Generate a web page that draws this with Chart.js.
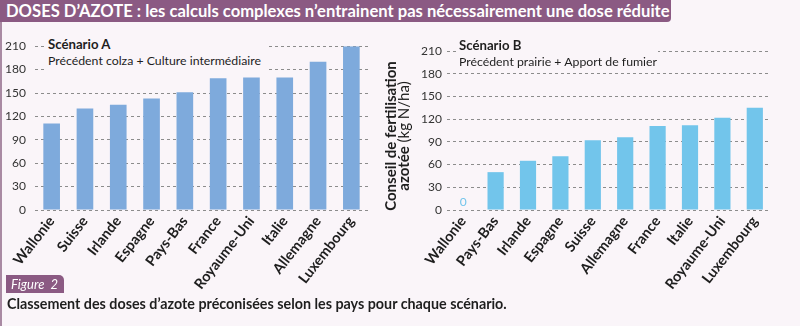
<!DOCTYPE html>
<html>
<head>
<meta charset="utf-8">
<script src="https://cdn.jsdelivr.net/npm/chart.js@4"></script>
<style>
  html, body { margin: 0; padding: 0; }
  body {
    width: 800px; height: 326px; position: relative; overflow: hidden;
    background: #faf5f9; font-family: Lato, "Noto Sans", sans-serif; color: #1e1e1e;
  }
  .bord { position: absolute; left: 0; top: 0; width: 2px; height: 326px; background: #a98aa3; }
  .titre {
    position: absolute; left: 0; top: 0; width: 665px; height: 22px; padding-left: 6px;
    background: #8b5a83; color: #fff; font-weight: 700; font-size: 16.6px; line-height: 22px;
    border-bottom-right-radius: 4px; white-space: nowrap;
  }
  canvas { position: absolute; }
  #graphA { left: 0; top: 30px; }
  #graphB { left: 410px; top: 30px; }
  .scen { position: absolute; background: #faf5f9; font-size: 12.3px; line-height: 16px; padding: 0 3px; white-space: nowrap; }
  .scen b { font-weight: 700; font-size: 13.2px; }
  #scenA { left: 45px; top: 36px; width: 215px; height: 35px; }
  #scenB { left: 456px; top: 37px; width: 196px; height: 28px; }
  .axe {
    position: absolute; left: 397px; top: 136px; width: 170px; transform: translate(-50%, -50%) rotate(-90deg);
    text-align: center; font-size: 15px; line-height: 13px; white-space: nowrap;
  }
  .fig {
    position: absolute; left: 6px; top: 275px; width: 58px; height: 18px; background: #8b5a83;
    color: #fff; font-style: italic; font-size: 13px; line-height: 18px; padding-left: 5px;
    box-sizing: border-box; border-top-right-radius: 5px;
  }
  .legende { position: absolute; left: 7px; top: 295px; font-weight: 700; font-size: 14.3px; white-space: nowrap; }
</style>
</head>
<body>
<div class="bord"></div>
<div class="titre">DOSES D’AZOTE : les calculs complexes n’entrainent pas nécessairement une dose réduite</div>

<canvas id="graphA" width="380" height="265"></canvas>
<canvas id="graphB" width="390" height="265"></canvas>

<div class="scen" id="scenA"><b>Scénario A</b><br>Précédent colza + Culture intermédiaire</div>
<div class="scen" id="scenB"><b>Scénario B</b><br>Précédent prairie + Apport de fumier</div>
<div class="axe"><b>Conseil de fertilisation</b><br><b>azotée</b> (kg N/ha)</div>

<div class="fig">Figure&nbsp; 2</div>
<div class="legende">Classement des doses d’azote préconisées selon les pays pour chaque scénario.</div>

<script>
// données
const paysA = ['Wallonie', 'Suisse', 'Irlande', 'Espagne', 'Pays-Bas', 'France', 'Royaume-Uni', 'Italie', 'Allemagne', 'Luxembourg'];
const dosesA = [111, 130, 135, 143, 151, 169, 170, 170, 190, 210];
const paysB = ['Wallonie', 'Pays-Bas', 'Irlande', 'Espagne', 'Suisse', 'Allemagne', 'France', 'Italie', 'Royaume-Uni', 'Luxembourg'];
const dosesB = [0, 50, 65, 71, 92, 96, 111, 112, 122, 135];
const graduations = [0, 30, 60, 90, 120, 150, 180, 210];

const police = 'Lato, "Noto Sans", sans-serif';

// écrit "0" au-dessus des barres nulles
const etiquetteZero = {
    id: 'etiquetteZero',
    afterDatasetsDraw(chart) {
        const ctx = chart.ctx;
        const meta = chart.getDatasetMeta(0);
        const ds = chart.data.datasets[0];
        ds.data.forEach((v, i) => {
            if (v !== 0) return;
            const el = meta.data[i];
            ctx.save();
            ctx.fillStyle = ds.backgroundColor;
            ctx.font = '12px ' + police;
            ctx.textAlign = 'center';
            ctx.textBaseline = 'bottom';
            ctx.fillText('0', el.x, chart.scales.y.getPixelForValue(0) - 2);
            ctx.restore();
        });
    }
};

function creerGraphique(id, pays, doses, couleur, cadre) {
    return new Chart(document.getElementById(id), {
        type: 'bar',
        data: {
            labels: pays,
            datasets: [{
                data: doses,
                backgroundColor: couleur,
                barPercentage: 1,
                categoryPercentage: 0.5
            }]
        },
        options: {
            responsive: false,
            animation: false,
            layout: { padding: { top: cadre.haut, right: cadre.droite, left: 0, bottom: 0 } },
            plugins: { legend: { display: false }, tooltip: { enabled: false } },
            scales: {
                x: {
                    grid: { display: false, drawTicks: false },
                    border: { display: false },
                    ticks: {
                        color: '#1e1e1e',
                        font: { family: police, size: 14.5, weight: 'bold' },
                        maxRotation: 52, minRotation: 52,
                        padding: 3
                    },
                    afterFit(scale) { scale.height = 85; }
                },
                y: {
                    min: 0, max: 210,
                    afterBuildTicks(scale) { scale.ticks = graduations.map(v => ({ value: v })); },
                    grid: { color: '#8c8c8c', lineWidth: 1, drawTicks: false },
                    border: { display: false, dash: [3, 3] },
                    ticks: {
                        color: '#333',
                        font: { family: police, size: 12 },
                        padding: cadre.pad
                    },
                    afterFit(scale) { scale.width = cadre.gauche; }
                }
            }
        },
        plugins: [etiquetteZero]
    });
}

creerGraphique('graphA', paysA, dosesA, '#7eaadc', { haut: 14, droite: 12, gauche: 35, pad: 9 });
creerGraphique('graphB', paysB, dosesB, '#72c5eb', { haut: 21, droite: 29, gauche: 37, pad: 5 });
</script>
</body>
</html>
